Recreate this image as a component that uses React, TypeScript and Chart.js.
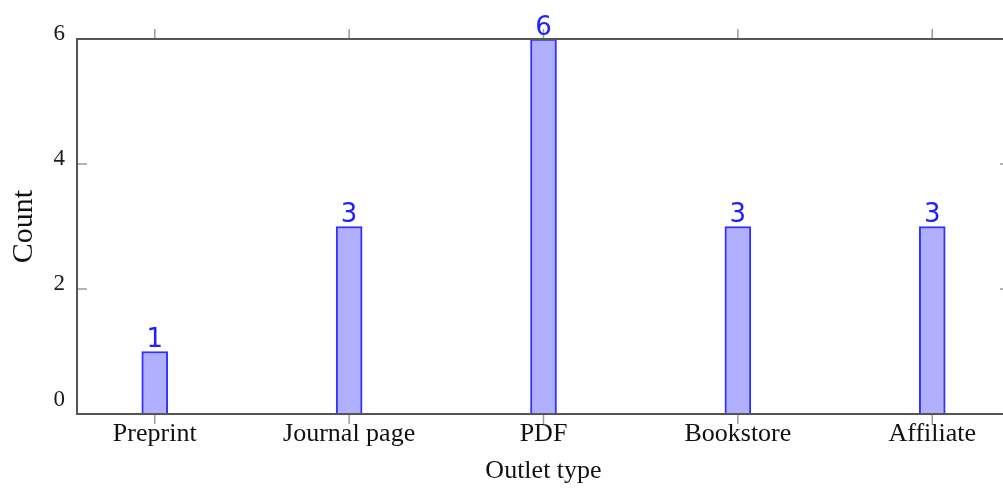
import React, { useEffect, useRef } from "react";
import { Chart, registerables } from "chart.js";

Chart.register(...registerables);

const categories = ["Preprint", "Journal page", "PDF", "Bookstore", "Affiliate"];
const counts = [1, 3, 6, 3, 3];
const yTicks = [0, 2, 4, 6];

const SERIF = "'Liberation Serif', 'Times New Roman', serif";

const framePlugin = {
  id: "framePlugin",
  afterDraw(chart: any) {
    const { ctx, chartArea } = chart;
    const { left, right, top, bottom } = chartArea;
    const xs = chart.scales.x;
    const ys = chart.scales.y;
    ctx.save();
    // ticks
    ctx.strokeStyle = "#9a9a9a";
    ctx.lineWidth = 1.5;
    ctx.beginPath();
    categories.forEach((_, i) => {
      const px = xs.getPixelForValue(i);
      ctx.moveTo(px, bottom);
      ctx.lineTo(px, bottom + 10);
      ctx.moveTo(px, top);
      ctx.lineTo(px, top - 10);
    });
    yTicks.forEach((v) => {
      const py = ys.getPixelForValue(v);
      ctx.moveTo(left, py);
      ctx.lineTo(left + 10, py);
      ctx.moveTo(right, py);
      ctx.lineTo(right - 10, py);
    });
    ctx.stroke();
    // frame
    ctx.strokeStyle = "#555555";
    ctx.lineWidth = 2;
    ctx.strokeRect(left, top, right - left, bottom - top);
    // y labels
    ctx.fillStyle = "#1a1a1a";
    ctx.font = `23px ${SERIF}`;
    ctx.textAlign = "right";
    ctx.textBaseline = "middle";
    yTicks.forEach((v) => {
      const py = ys.getPixelForValue(v);
      ctx.fillText(String(v), left - 12, py - (v === 0 ? 14 : 5));
    });
    // data labels
    ctx.fillStyle = "#2020ff";
    ctx.font = `26px 'DejaVu Sans', sans-serif`;
    ctx.textAlign = "center";
    ctx.textBaseline = "bottom";
    counts.forEach((v, i) => {
      const px = xs.getPixelForValue(i);
      const py = ys.getPixelForValue(v);
      ctx.fillText(String(v), px, py + 2);
    });
    ctx.restore();
  },
};

export default function App() {
  const ref = useRef<HTMLCanvasElement>(null);
  useEffect(() => {
    if (!ref.current) return;
    const chart = new Chart(ref.current, {
      type: "bar",
      data: {
        datasets: [
          {
            data: counts.map((v, i) => ({ x: i, y: v })),
            backgroundColor: "rgba(176,176,255,1)",
            borderColor: "#3333ff",
            borderWidth: 2,
            barThickness: 26,
          },
        ],
      },
      options: {
        animation: false,
        responsive: false,
        devicePixelRatio: 1,
        layout: { padding: { top: 39, right: 20, left: 0, bottom: 0 } },
        plugins: { legend: { display: false }, tooltip: { enabled: false } },
        scales: {
          x: {
            type: "linear",
            min: -0.4,
            max: 4.4,
            offset: false,
            grid: { display: false },
            border: { display: false },
            afterFit: (s: any) => {
              s.height = 75;
            },
            afterBuildTicks: (s: any) => {
              s.ticks = categories.map((_, i) => ({ value: i }));
            },
            ticks: {
              autoSkip: false,
              maxRotation: 0,
              padding: -3,
              color: "#111",
              font: { family: SERIF, size: 26 },
              callback: (v: any) => categories[v as number] ?? "",
            },
            title: {
              display: true,
              text: "Outlet type",
              color: "#111",
              font: { family: SERIF, size: 26 },
              padding: { top: 0, bottom: 2 },
            },
          },
          y: {
            min: 0,
            max: 6,
            grid: { display: false },
            border: { display: false },
            afterFit: (s: any) => {
              s.width = 77;
            },
            ticks: { display: false, stepSize: 2 },
            title: {
              display: true,
              text: "Count",
              color: "#111",
              font: { family: SERIF, size: 30 },
              padding: { top: 6, bottom: 0 },
            },
          },
        },
      },
      plugins: [framePlugin],
    });
    return () => chart.destroy();
  }, []);
  return (
    <div
      style={{
        position: "fixed",
        left: 0,
        top: 0,
        width: 1003,
        height: 489,
        overflow: "hidden",
        background: "#fff",
      }}
    >
      <canvas ref={ref} width={1030} height={489} style={{ display: "block" }} />
    </div>
  );
}
